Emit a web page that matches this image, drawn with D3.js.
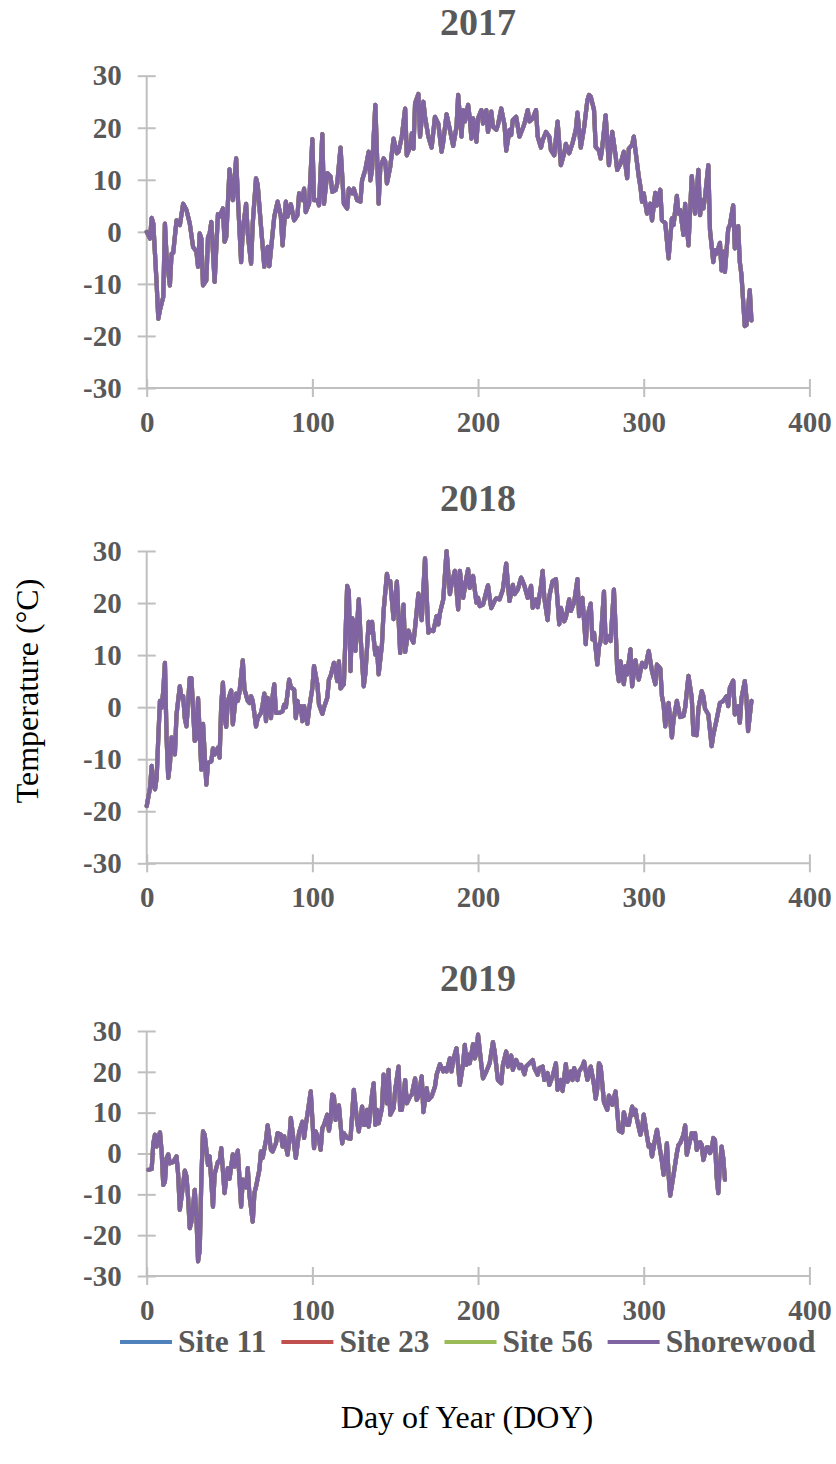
<!DOCTYPE html>
<html>
<head>
<meta charset="utf-8">
<script src="https://cdn.jsdelivr.net/npm/d3@7"></script>
<style>
  body { margin: 0; background: #fff; }
  text { font-family: "Liberation Serif", "Times New Roman", serif; }
</style>
</head>
<body>
<div id="chart"></div>
<script>
// daily air temperature (°C), by day of year

var doy2017 = [0,2,3,4,6,7,8,10,11,12,14,15,16,18,20,22,24,26,28,30,31,32,33,34,36,37,38,39,41,43,44,46,47,48,50,52,54,55,57,58,60,61,63,64,66,67,69,71,73,74,75,77,79,81,82,84,85,87,89,91,92,94,95,96,98,100,101,103,104,106,107,109,111,112,114,115,117,119,121,122,124,125,127,129,130,132,134,135,136,138,140,141,143,144,145,147,149,151,152,154,156,157,159,160,161,162,164,165,167,168,170,172,174,176,178,179,181,183,185,187,188,190,191,192,194,195,196,197,199,200,202,203,205,206,208,209,211,212,214,216,217,219,220,221,223,225,227,228,230,231,233,235,236,238,239,241,243,244,246,248,250,252,253,255,257,259,260,262,264,266,267,268,270,271,273,274,275,277,279,281,283,284,286,288,290,291,293,294,295,297,298,299,300,302,304,305,307,308,310,311,313,315,317,318,320,321,322,324,325,327,329,331,333,334,335,336,337,339,340,342,343,344,346,347,348,349,351,352,354,355,357,358,359,361,362,364,365];
var temp2017 = [0,-1.3,2.7,1.6,-10,-16.7,-15,-12.5,1.6,-4.8,-10.3,-4.2,-4,2.2,1.3,5.4,4.2,1.6,-2.9,-3.8,-6.7,-0.3,-1.3,-10.3,-9.3,-1,-0.3,1.9,-9.6,3.4,2.9,4.5,-1.9,-1,12,6.1,14.1,6.7,-5.8,0.3,5.4,-0.3,-6.1,1.6,10.3,9,1,-6.7,-2.9,-6.6,-3.5,2.9,5.8,2.9,-2.6,5.8,2.9,5.3,2.2,3.2,7.4,6.1,8.3,3.8,5.4,17.8,6.1,6.1,5.1,18.8,5.4,11.3,10.6,7.7,8,9.3,16.2,5.4,4.5,8.3,7.4,8.3,6.1,5.8,9.9,12,15.4,9.9,11.9,24.4,5.4,12.5,14.1,13.5,9.3,12.5,17.9,15.1,15.4,18.3,23.7,14.7,16.3,18.9,16,24.7,26.5,18.3,25,22.1,18.3,16.2,22.1,20.8,15.4,17.3,22.6,19.6,16.5,20.2,26.3,18.3,23.4,21.2,24.4,21.8,17.9,21.8,17.3,21.8,23.4,20.8,23.4,19.2,23.1,20.2,19.6,20.5,23.7,20.5,15.6,19.6,18.6,21.5,22.1,18.3,19.9,20.8,23.4,21.2,21.8,23.4,18.3,16.2,17.6,19.2,18.3,15.7,14.7,21.2,12.8,15.1,16.9,15.1,17,19.6,22.9,16.2,20,25.3,26.3,26,23.4,16.3,15.6,14.1,16.3,22.4,12.8,19.2,14.7,11.9,13.1,15.4,10.3,16,16.7,18.3,15.7,10.6,8.7,5.8,7.4,3.5,5.4,2.2,7.5,5.1,8.1,2.2,1.7,-5.1,2.6,1.3,6.9,3.5,4.2,-0.6,5.4,-2.6,10.7,3.5,11.9,3.2,6.1,4.5,6.7,12.8,0.3,-5.8,-3.5,-4.2,-2.1,-7.4,-3.8,-7.7,0.6,1.3,5.1,-3.2,1.1,-5.8,-8.3,-18.1,-17.9,-11.2,-17];

var doy2018 = [0,2,3,4,5,6,7,8,9,10,11,12,13,14,15,16,17,18,20,21,22,23,24,26,27,29,30,31,33,34,36,37,39,40,41,43,44,45,46,47,48,49,51,52,54,55,56,58,59,61,62,63,64,66,67,69,70,71,72,73,74,75,76,77,78,80,82,83,84,86,87,89,90,91,92,93,94,95,97,98,100,101,103,104,106,107,109,110,111,113,114,115,116,117,119,121,122,123,124,125,126,128,129,131,132,134,135,136,138,139,140,142,143,145,146,147,149,151,153,155,156,158,159,161,162,164,166,168,170,171,173,175,176,177,179,181,183,184,186,188,189,191,193,194,195,197,199,200,201,203,206,207,208,210,211,213,215,217,218,219,221,222,224,226,228,230,232,233,235,236,238,239,240,242,243,245,247,249,250,252,253,255,256,258,260,261,263,265,266,268,269,270,272,273,274,276,277,278,280,282,283,284,285,286,288,289,290,292,293,295,297,299,301,303,305,307,308,310,311,312,313,315,317,318,320,322,324,325,327,329,330,332,333,335,336,337,339,341,342,344,346,348,350,351,352,354,355,357,358,359,361,362,363,365];
var temp2018 = [-19,-15.5,-11.3,-14.9,-15.8,-13.6,-5.9,1.2,-0.1,3.1,8.5,-5.9,-13.6,-11,-5.8,-6.9,-9.1,-1.4,4,1.8,2.1,-2.1,-3.7,5.6,5.6,-6.5,-5.9,1.7,-12,-3.2,-14.9,-10.7,-10.4,-7.9,-9.1,-7.8,-9.7,0.5,4.7,-2.1,-3.8,1.2,3.2,-3.3,2.6,1.2,2.9,9,3.4,1.2,0.8,2.1,1.2,-3.7,-2.1,-1.1,0.5,2.6,-2.7,1.8,0.5,-2.1,2.1,4.4,-1.1,-1.1,-0.8,0.5,0,5.3,3.8,3.4,-2.1,1.2,-0.8,0.2,-2.7,0.2,-3.2,-0.4,3.7,7.9,4.4,0.5,-1.3,-0.1,1.8,5.3,6,8.5,7.1,5,8.8,3.6,4.4,23.3,22.3,6.9,17.1,16.5,10.8,20.7,14,4,6.5,16.4,14.3,16.4,10.1,11.4,6.3,12.1,18.5,25.6,23.9,24.2,16.9,24.1,10.4,19.7,10.6,14.7,13.7,12.4,15.3,21.8,16.7,28.6,14.3,14.9,14.6,17.5,15.9,18.1,20.7,30,21.7,23.6,26.2,18.8,26.2,21,24.9,26.5,22.9,25.2,20.1,21,19.4,19.7,23.4,21,19,20.4,20.9,20.7,22.6,27.6,23.6,20.4,23.5,21.7,22.6,24.9,23.3,21,23.3,19.1,20.7,19.2,23.3,26.2,21,16.7,21.3,24.2,24.6,15.9,19.1,16.5,17.2,20.7,18.5,20.1,24.6,17.5,21,12.1,17.5,19.9,13,14.3,8.2,11.7,12.7,22.2,12.4,13.7,12.7,22.6,15.3,7.2,5,8.8,4.4,7.9,6.3,11.1,4,9,5.3,8.5,7.7,10.8,6.9,4.4,8.2,7.4,2.1,0.5,-3.7,0.8,-5.8,-2.4,1.2,-1.9,-1.7,-0.1,6,1.8,-5.3,-5.4,-0.3,3.1,2.1,-0.3,-1.4,-7.5,-5.3,-2.4,0.8,1.2,2.1,0.2,3.7,5.1,-1.4,0.2,-3,1.7,5,1.8,-4.6,1.2];

var doy2019 = [1,3,4,5,6,8,9,10,11,12,13,14,16,18,19,20,22,23,24,25,26,27,29,30,31,32,33,34,35,37,38,40,41,43,44,45,47,48,49,50,52,53,55,57,58,60,61,62,64,65,66,68,69,70,72,73,75,76,78,79,81,82,83,85,86,87,89,90,92,94,95,96,97,99,101,102,104,105,106,107,109,110,111,112,113,114,116,118,119,121,123,124,125,127,128,130,131,132,133,134,136,137,138,139,140,142,143,145,146,147,149,150,152,153,154,156,157,159,160,162,163,164,166,167,169,170,172,174,175,177,179,180,181,183,184,185,187,188,189,191,192,193,194,195,197,198,199,200,202,203,205,207,209,210,212,214,215,217,218,220,221,223,225,226,228,229,231,233,234,236,237,239,240,242,243,245,247,248,250,251,253,254,256,257,258,260,261,263,264,266,268,270,271,272,273,274,276,278,279,281,282,283,285,287,288,290,291,293,294,295,296,298,299,300,302,303,304,305,307,308,310,311,312,313,314,315,316,318,320,321,322,324,325,326,328,329,330,331,332,334,335,336,338,339,340,341,342,343,344,345,346,347,348,349];
var temp2019 = [-4,-3.8,2.5,4.6,1.7,5.2,0.5,-7.7,-6.9,-1.1,-0.2,-2.4,-2.1,-0.7,-5.2,-13.8,-7.5,-4.2,-5.6,-10.9,-18.3,-16.7,-8.9,-15.4,-26.4,-23.6,-6,5.4,4.6,-2.8,-0.7,-13,-5.1,-2,-2,1.3,-9.7,-6,-3.6,-6.2,-0.2,-3.2,0.7,-13,-6.4,-8.3,-3.6,-10.1,-16.7,-9.7,-8.1,-4,0.5,-1.1,3.3,6.9,0.9,0.5,2.5,5,4.6,1.7,4.2,-0.3,2.9,8.7,2.1,-1.1,5.2,7.8,3.8,7,9.5,15.2,1.3,5.4,3.3,0.9,6.2,7,9.5,5.6,8.2,14.4,14,8.2,11.8,2.5,5,3.8,3.6,9.5,15.6,7.8,5.4,11.5,7,7,10.7,6.6,14.4,17.2,7,10.7,7.4,11.1,19.3,12.3,20.5,9.5,11.1,15.6,21.3,10.7,10.7,18,12.3,14,14.4,18.4,13.1,14,18.9,10.1,16,13.1,14,16.4,19.3,21.9,20.1,20.9,20.1,23.3,20.1,22.9,25.8,21.3,16.8,22.1,26.6,21.7,24.2,22.1,26.8,23.3,24.6,29.1,21.7,18.4,20.1,22.1,27.3,25,18,17.2,21.7,25,21.3,24,20.5,22.9,20.9,21.7,19.4,21.3,22.1,22.9,20.9,19.3,20.9,21.3,18,19.7,16.8,18.9,22.1,15.6,18,15.3,21.9,17.6,20.1,18,20.9,18,20.1,21.3,22.5,18,21.3,16.8,13.4,16,22.1,21.3,12.6,10.7,14.2,11.9,13.7,15.2,5.6,5.2,10.1,7,7,11.5,9.5,10.7,8.2,4.6,6.2,9.5,4.2,1.7,2.1,-0.7,3.8,5.8,0.5,-2,-5.2,-2,2.5,-5.2,-10.3,-5.2,0.1,2.1,2.5,4.6,6.9,-0.3,3.3,5,3.8,5,0.9,2.8,2.1,-1.6,1.5,1.5,0.1,0.9,3.8,3.3,-5.6,-9.7,-2.8,1.7,-1.1,-6.4];

var years = ["2017", "2018", "2019"];
var sites = ["Site 11", "Site 23", "Site 56", "Shorewood"];
var siteColors = ["#4f81bd", "#c0504d", "#9bbb59", "#8064a2"];
var xTicks = [0, 100, 200, 300, 400];
var yTicks = [-30, -20, -10, 0, 10, 20, 30];

// Site 11, 23 and 56 lie under the Shorewood line at this scale,
// so all four lines are drawn from the same readings
var yearDoy = [doy2017, doy2018, doy2019];
var yearTemp = [temp2017, temp2018, temp2019];

var width = 836, height = 1464;
var axisColor = "#bfbfbf", labelColor = "#595959";

// plot boxes for the three panels
var panels = [
  {top: 75.7, bottom: 388, titleY: 35},
  {top: 551, bottom: 863.3, titleY: 511},
  {top: 1031, bottom: 1276, titleY: 991}
];

var svg = d3.select("#chart").append("svg")
    .attr("width", width)
    .attr("height", height);

var x = d3.scaleLinear()
    .domain([0, 400])
    .range([146.7, 809.4]);

// plain hyphen for negatives, like the original
var fmt = function(d) { return String(d); };

panels.forEach(function(p, k) {
  var y = d3.scaleLinear()
      .domain([-30, 30])
      .range([p.bottom, p.top]);

  var g = svg.append("g");

  var yAxis = d3.axisLeft(y)
      .tickValues(yTicks)
      .tickFormat(fmt)
      .tickSize(9)
      .tickPadding(16);

  g.append("g")
      .attr("transform", "translate(" + x(0) + ",0)")
      .call(yAxis)
      .call(function(a) {
        a.select(".domain").attr("stroke", axisColor).attr("stroke-width", 2).attr("d", "M0," + p.top + "V" + p.bottom);
        a.selectAll(".tick line").attr("stroke", axisColor).attr("stroke-width", 2).attr("x1", 9);
        a.selectAll(".tick text")
            .attr("fill", labelColor)
            .style("font-size", "29px")
            .style("font-weight", "bold");
      });

  var xAxis = d3.axisBottom(x)
      .tickValues(xTicks)
      .tickFormat(fmt)
      .tickSize(9)
      .tickPadding(14);

  g.append("g")
      .attr("transform", "translate(0," + p.bottom + ")")
      .call(xAxis)
      .call(function(a) {
        a.select(".domain").attr("stroke", axisColor).attr("stroke-width", 2).attr("d", "M" + x(0) + ",0H" + x(400));
        a.selectAll(".tick line").attr("stroke", axisColor).attr("stroke-width", 2).attr("y1", -9);
        a.selectAll(".tick text")
            .attr("fill", labelColor)
            .style("font-size", "29px")
            .style("font-weight", "bold");
      });

  g.append("text")
      .attr("x", (x(0) + x(400)) / 2)
      .attr("y", p.titleY)
      .attr("text-anchor", "middle")
      .attr("fill", labelColor)
      .style("font-size", "38px")
      .style("font-weight", "bold")
      .text(years[k]);

  var line = d3.line()
      .x(function(d) { return x(d[0]); })
      .y(function(d) { return y(d[1]); });

  var pts = yearDoy[k].map(function(d, i) { return [d, yearTemp[k][i]]; });

  sites.forEach(function(s, j) {
    g.append("path")
        .datum(pts)
        .attr("fill", "none")
        .attr("stroke", siteColors[j])
        .attr("stroke-width", 4.2)
        .attr("stroke-linejoin", "round")
        .attr("stroke-linecap", "round")
        .attr("d", line);
  });
});

// legend, laid out left to right
var legend = svg.append("g");
var lx = 120;
sites.forEach(function(s, j) {
  legend.append("line")
      .attr("x1", lx)
      .attr("x2", lx + 52)
      .attr("y1", 1342)
      .attr("y2", 1342)
      .attr("stroke", siteColors[j])
      .attr("stroke-width", 4);
  var t = legend.append("text")
      .attr("x", lx + 58)
      .attr("y", 1352)
      .attr("fill", labelColor)
      .style("font-size", "31.5px")
      .style("font-weight", "bold")
      .text(s);
  lx = lx + 58 + t.node().getComputedTextLength() + 15;
});

// axis titles
svg.append("text")
    .attr("transform", "translate(38,691) rotate(-90)")
    .attr("text-anchor", "middle")
    .attr("fill", "#000")
    .style("font-size", "32px")
    .text("Temperature (°C)");

svg.append("text")
    .attr("x", 467)
    .attr("y", 1428)
    .attr("text-anchor", "middle")
    .attr("fill", "#000")
    .style("font-size", "32px")
    .text("Day of Year (DOY)");
</script>
</body>
</html>
